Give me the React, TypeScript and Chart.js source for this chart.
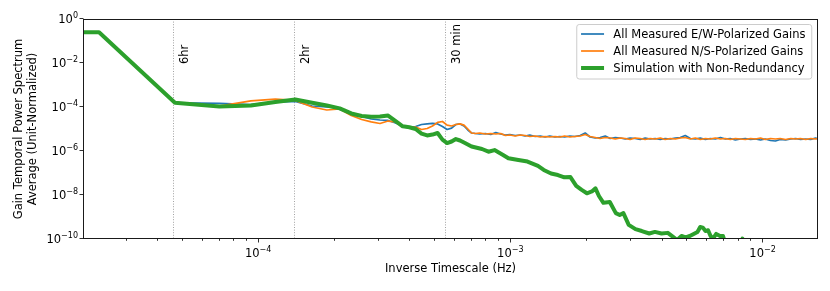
import React, { useEffect, useRef } from 'react';
import { Chart, registerables } from 'chart.js';

Chart.register(...registerables);

const FONT = '"DejaVu Sans", sans-serif';

// ---- Data (Hz, unit-normalized power) ----
const FREQ_LOW = [1e-5, 2.35e-5, 4.7e-5, 7.05e-5, 9.4e-5, 1.175e-4, 1.41e-4, 1.645e-4, 1.88e-4, 2.115e-4,
  2.35e-4, 2.585e-4, 2.82e-4, 3.055e-4, 3.29e-4, 3.525e-4, 3.76e-4, 3.995e-4, 4.23e-4, 4.465e-4,
  4.7e-4, 4.935e-4, 5.17e-4, 5.405e-4, 5.64e-4, 5.875e-4, 6.11e-4, 6.345e-4, 6.58e-4, 6.815e-4, 7.05e-4];

const FREQ_HIGH = [7.3e-4, 7.6e-4, 8.0e-4, 8.4e-4, 8.8e-4, 9.2e-4, 9.6e-4,
  1.0e-3, 1.05e-3, 1.1e-3, 1.15e-3, 1.2e-3, 1.26e-3, 1.32e-3, 1.38e-3, 1.44e-3, 1.51e-3, 1.58e-3, 1.65e-3, 1.73e-3, 1.81e-3, 1.9e-3, 1.99e-3,
  2.08e-3, 2.18e-3, 2.28e-3, 2.39e-3, 2.5e-3, 2.62e-3, 2.74e-3, 2.87e-3,
  3.0e-3, 3.14e-3, 3.29e-3, 3.44e-3, 3.6e-3, 3.77e-3, 3.95e-3,
  4.13e-3, 4.33e-3, 4.53e-3, 4.74e-3, 4.96e-3, 5.2e-3, 5.44e-3, 5.69e-3, 5.96e-3,
  6.24e-3, 6.53e-3, 6.84e-3, 7.16e-3, 7.49e-3, 7.84e-3, 8.21e-3, 8.59e-3, 9.0e-3, 9.42e-3, 9.86e-3,
  1.03e-2, 1.08e-2, 1.13e-2, 1.18e-2, 1.24e-2, 1.3e-2, 1.36e-2, 1.42e-2, 1.49e-2, 1.56e-2, 1.63e-2, 1.667e-2];

const EW_LOW = [0.25, 0.25, 1.55e-4, 1.45e-4, 1.3e-4, 1.65e-4, 1.78e-4, 1.11e-4, 1.0e-4, 9.0e-5,
  5.3e-5, 3.7e-5, 2.85e-5, 2.57e-5, 2.45e-5, 1.87e-5, 1.37e-5, 1.17e-5, 1.3e-5, 1.6e-5,
  1.7e-5, 1.8e-5, 1.7e-5, 1.3e-5, 9.5e-6, 1.1e-5, 1.6e-5, 1.7e-5, 1.37e-5, 9.0e-6, 6.6e-6];

const EW_HIGH = [6.24e-6, 5.93e-6, 6.24e-6, 5.62e-6, 6.93e-6, 5.93e-6, 5.33e-6,
  5.62e-6, 5.07e-6, 5.33e-6, 4.81e-6, 5.33e-6, 4.56e-6, 4.81e-6, 4.33e-6, 4.81e-6, 4.33e-6, 4.56e-6, 4.33e-6, 4.81e-6, 4.56e-6, 5.07e-6, 6.58e-6,
  4.33e-6, 3.9e-6, 4.11e-6, 4.81e-6, 3.7e-6, 4.11e-6, 3.9e-6, 3.51e-6,
  3.9e-6, 3.7e-6, 3.33e-6, 3.9e-6, 3.51e-6, 3.7e-6, 3.33e-6,
  3.7e-6, 3.51e-6, 3.9e-6, 4.11e-6, 5.07e-6, 3.7e-6, 3.51e-6, 3.9e-6, 3.33e-6,
  3.7e-6, 3.51e-6, 4.11e-6, 3.51e-6, 3.7e-6, 3.16e-6, 3.51e-6, 3.7e-6, 3.33e-6, 3.51e-6, 3.16e-6,
  3.51e-6, 3.0e-6, 2.85e-6, 3.33e-6, 3.16e-6, 3.51e-6, 3.7e-6, 3.33e-6, 3.51e-6, 3.33e-6, 3.9e-6, 3.51e-6];

const NS_LOW = [0.25, 0.25, 1.62e-4, 1.1e-4, 1.9e-4, 2.3e-4, 2.0e-4, 1.0e-4, 7.3e-5, 8.1e-5,
  4.1e-5, 2.7e-5, 2.1e-5, 1.78e-5, 2.3e-5, 2.1e-5, 1.37e-5, 1.1e-5, 1.23e-5, 9.5e-6,
  1.05e-5, 1.37e-5, 2.0e-5, 2.2e-5, 1.5e-5, 1.37e-5, 1.6e-5, 1.7e-5, 1.5e-5, 1.0e-5, 6.6e-6];

const NS_HIGH = [6.24e-6, 6.58e-6, 5.93e-6, 6.24e-6, 5.93e-6, 6.24e-6, 5.07e-6,
  5.33e-6, 4.81e-6, 5.33e-6, 5.07e-6, 4.56e-6, 4.81e-6, 4.33e-6, 4.56e-6, 4.33e-6, 4.56e-6, 4.33e-6, 4.81e-6, 4.33e-6, 4.56e-6, 4.81e-6, 5.62e-6,
  4.56e-6, 4.11e-6, 3.7e-6, 4.11e-6, 3.9e-6, 3.51e-6, 3.9e-6, 3.7e-6,
  3.33e-6, 3.9e-6, 3.7e-6, 3.33e-6, 3.7e-6, 3.51e-6, 3.9e-6,
  3.33e-6, 3.7e-6, 3.51e-6, 3.9e-6, 4.11e-6, 3.51e-6, 3.9e-6, 3.33e-6, 3.7e-6,
  3.51e-6, 3.9e-6, 3.51e-6, 3.7e-6, 3.33e-6, 3.7e-6, 3.51e-6, 3.33e-6, 3.7e-6, 3.51e-6, 3.9e-6,
  3.33e-6, 3.7e-6, 3.51e-6, 3.7e-6, 3.33e-6, 3.7e-6, 3.51e-6, 3.7e-6, 3.33e-6, 3.7e-6, 3.51e-6, 3.7e-6];

const SIM_FREQ = [1e-5, 2.35e-5, 4.7e-5, 7.05e-5, 9.4e-5, 1.175e-4, 1.41e-4, 1.645e-4, 1.88e-4, 2.115e-4,
  2.35e-4, 2.585e-4, 2.82e-4, 3.055e-4, 3.29e-4, 3.525e-4, 3.76e-4, 3.995e-4, 4.23e-4, 4.465e-4,
  4.7e-4, 4.935e-4, 5.17e-4, 5.405e-4, 5.64e-4, 5.875e-4, 6.11e-4, 6.345e-4, 6.58e-4, 7.05e-4,
  7.755e-4, 8.225e-4, 8.695e-4, 9.4e-4, 9.87e-4, 1.081e-3, 1.175e-3, 1.2925e-3, 1.363e-3, 1.457e-3,
  1.551e-3, 1.645e-3, 1.739e-3, 1.833e-3, 1.927e-3, 2.021e-3, 2.115e-3, 2.1855e-3, 2.256e-3, 2.35e-3,
  2.491e-3, 2.632e-3, 2.726e-3, 2.82e-3, 2.961e-3, 3.149e-3, 3.337e-3, 3.572e-3, 3.76e-3, 3.995e-3,
  4.23e-3, 4.465e-3, 4.606e-3, 4.794e-3, 4.982e-3, 5.17e-3, 5.358e-3, 5.546e-3, 5.687e-3, 5.828e-3,
  5.969e-3, 6.11e-3, 6.251e-3, 6.392e-3, 6.58e-3, 6.815e-3, 7.003e-3, 7.191e-3, 7.755e-3, 8.225e-3,
  8.366e-3, 8.507e-3, 9.4e-3, 1.175e-2, 1.666e-2];

const SIM_GAIN = [0.25, 0.25, 1.57e-4, 1.05e-4, 1.17e-4, 1.7e-4, 2.2e-4, 1.57e-4, 1.17e-4, 8.7e-5,
  5.1e-5, 3.9e-5, 3.6e-5, 3.7e-5, 4.1e-5, 2.3e-5, 1.33e-5, 1.2e-5, 1.0e-5, 6.2e-6,
  5.1e-6, 5.6e-6, 6.6e-6, 3.3e-6, 2.3e-6, 2.7e-6, 3.5e-6, 3.0e-6, 2.43e-6, 1.6e-6,
  1.23e-6, 9.3e-7, 1.1e-6, 6.6e-7, 4.7e-7, 3.9e-7, 3.3e-7, 2.1e-7, 1.38e-7, 9.5e-8,
  8.1e-8, 6.4e-8, 6.5e-8, 2.6e-8, 1.7e-8, 1.2e-8, 1.45e-8, 2.0e-8, 9.0e-9, 4.4e-9,
  4.8e-9, 1.5e-9, 1.23e-9, 1.5e-9, 4.4e-10, 2.8e-10, 2.3e-10, 1.78e-10, 2.1e-10, 1.78e-10,
  1.9e-10, 1.18e-10, 9e-11, 1.37e-10, 1.18e-10, 1.37e-10, 1.7e-10, 2.1e-10, 3.5e-10, 3.3e-10,
  2.3e-10, 2.5e-10, 1.37e-10, 1.05e-10, 1.7e-10, 1.37e-10, 1.37e-10, 5e-11, 3e-11, 6e-11,
  1.05e-10, 6e-11, 3e-11, 2e-11, 2e-11];

const MARKER_SECONDS = [21600, 7200, 1800];
const MARKER_LABELS = ['6hr', '2hr', '30 min'];

const X_MIN = 2.03e-5;
const X_MAX = 1.667e-2;
const Y_MIN = 1e-10;
const Y_MAX = 1;
const X_MAJOR_EXP = [-4, -3, -2];
const Y_MAJOR_EXP = [0, -2, -4, -6, -8, -10];

const SERIES_LABELS = [
  'All Measured E/W-Polarized Gains',
  'All Measured N/S-Polarized Gains',
  'Simulation with Non-Redundancy',
];
const COLORS = ['#1f77b4', '#ff7f0e', '#2ca02c'];
const WIDTHS = [1.7, 1.7, 4];

function pts(xs: number[], ys: number[]) {
  const n = Math.min(xs.length, ys.length);
  const out: { x: number; y: number }[] = [];
  for (let i = 0; i < n; i++) out.push({ x: xs[i], y: ys[i] });
  return out;
}

function drawPow(ctx: CanvasRenderingContext2D, exp: number, x: number, baseY: number, align: 'center' | 'right') {
  const base = '10';
  const sup = exp < 0 ? '\u2212' + String(-exp) : String(exp);
  ctx.font = `11.5px ${FONT}`;
  const wb = ctx.measureText(base).width;
  ctx.font = `8px ${FONT}`;
  const ws = ctx.measureText(sup).width;
  const total = wb + ws;
  const left = align === 'center' ? x - total / 2 : x - total;
  ctx.textAlign = 'left';
  ctx.textBaseline = 'alphabetic';
  ctx.font = `11.5px ${FONT}`;
  ctx.fillText(base, left, baseY);
  ctx.font = `8px ${FONT}`;
  ctx.fillText(sup, left + wb, baseY - 5);
}

const overlay = {
  id: 'overlay',
  beforeDatasetsDraw(chart: any) {
    const { ctx, chartArea: a, scales } = chart;
    const x = scales.x;
    ctx.save();
    ctx.strokeStyle = '#8a8a8a';
    ctx.lineWidth = 0.8;
    ctx.setLineDash([1, 1.6]);
    MARKER_SECONDS.forEach((s) => {
      const px = Math.round(x.getPixelForValue(1 / s)) + 0.5;
      ctx.beginPath();
      ctx.moveTo(px, a.top);
      ctx.lineTo(px, a.bottom);
      ctx.stroke();
    });
    ctx.restore();
  },
  afterDraw(chart: any) {
    const { ctx, chartArea: a, scales } = chart;
    const x = scales.x;
    const y = scales.y;
    ctx.save();
    ctx.fillStyle = '#000';

    // marker labels
    ctx.font = `11.5px ${FONT}`;
    MARKER_SECONDS.forEach((s, i) => {
      const px = Math.round(x.getPixelForValue(1 / s)) + 0.5;
      ctx.save();
      ctx.translate(px + 14.5, a.top + 45);
      ctx.rotate(-Math.PI / 2);
      ctx.textAlign = 'left';
      ctx.textBaseline = 'alphabetic';
      ctx.fillText(MARKER_LABELS[i], 0, 0);
      ctx.restore();
    });

    // frame
    const L = a.left + 0.5, R = a.right - 0.5, T = a.top + 0.5, B = a.bottom - 0.5;
    ctx.strokeStyle = '#1a1a1a';
    ctx.lineWidth = 1;
    ctx.strokeRect(L, T, R - L, B - T);

    // x ticks
    ctx.lineWidth = 0.9;
    for (let k = -5; k <= -2; k++) {
      for (let m = 1; m <= 9; m++) {
        const v = m * Math.pow(10, k);
        if (v < X_MIN || v > X_MAX) continue;
        const px = Math.round(x.getPixelForValue(v)) + 0.5;
        const len = m === 1 ? 4 : 2.3;
        ctx.beginPath();
        ctx.moveTo(px, B);
        ctx.lineTo(px, B + len);
        ctx.stroke();
      }
    }
    X_MAJOR_EXP.forEach((e) => {
      const px = x.getPixelForValue(Math.pow(10, e));
      drawPow(ctx, e, px + 0.5, a.bottom + 17.5, 'center');
    });

    // y ticks
    Y_MAJOR_EXP.forEach((e) => {
      const py = Math.round(y.getPixelForValue(Math.pow(10, e))) - 0.5;
      ctx.beginPath();
      ctx.moveTo(L, py);
      ctx.lineTo(L - 4, py);
      ctx.stroke();
      drawPow(ctx, e, a.left - 5, py + 4.5, 'right');
    });

    // axis titles
    ctx.font = `11.5px ${FONT}`;
    ctx.textAlign = 'center';
    ctx.textBaseline = 'alphabetic';
    ctx.fillText('Inverse Timescale (Hz)', (a.left + a.right) / 2, a.bottom + 32.5);
    const cy = (a.top + a.bottom) / 2;
    [['Gain Temporal Power Spectrum', 22.4], ['Average (Unit-Normalized)', 36.2]].forEach(([t, bx]) => {
      ctx.save();
      ctx.translate(bx as number, cy);
      ctx.rotate(-Math.PI / 2);
      ctx.fillText(t as string, 0, 0);
      ctx.restore();
    });

    // legend
    const boxR = a.right - 6.25;
    const boxL = boxR - 235;
    const boxT = a.top + 5.5;
    const boxH = 54.5;
    ctx.beginPath();
    (ctx as any).roundRect(boxL, boxT, boxR - boxL, boxH, 2.5);
    ctx.fillStyle = 'rgba(255,255,255,0.8)';
    ctx.fill();
    ctx.strokeStyle = '#cccccc';
    ctx.lineWidth = 1;
    ctx.stroke();
    SERIES_LABELS.forEach((lab, i) => {
      const ry = boxT + 9.5 + i * 17;
      ctx.strokeStyle = COLORS[i];
      ctx.lineWidth = WIDTHS[i];
      ctx.beginPath();
      ctx.moveTo(boxL + 4.3, ry);
      ctx.lineTo(boxL + 27.3, ry);
      ctx.stroke();
      ctx.fillStyle = '#000';
      ctx.font = `11.5px ${FONT}`;
      ctx.textAlign = 'left';
      ctx.textBaseline = 'alphabetic';
      ctx.fillText(lab, boxL + 36.6, ry + 4);
    });
    ctx.restore();
  },
};

export default function App() {
  const ref = useRef<HTMLCanvasElement>(null);
  useEffect(() => {
    const canvas = ref.current;
    if (!canvas) return;
    const ds = [
      pts(FREQ_LOW.concat(FREQ_HIGH), EW_LOW.concat(EW_HIGH)),
      pts(FREQ_LOW.concat(FREQ_HIGH), NS_LOW.concat(NS_HIGH)),
      pts(SIM_FREQ, SIM_GAIN),
    ];
    const chart = new Chart(canvas, {
      type: 'line',
      data: {
        datasets: ds.map((d, i) => ({
          label: SERIES_LABELS[i],
          data: d,
          borderColor: COLORS[i],
          backgroundColor: COLORS[i],
          borderWidth: WIDTHS[i],
          pointRadius: 0,
          pointHoverRadius: 0,
          fill: false,
          tension: 0,
          clip: 0,
          order: 3 - i,
          borderJoinStyle: 'round',
          borderCapStyle: 'butt',
        })),
      },
      options: {
        responsive: false,
        animation: false,
        devicePixelRatio: 1,
        events: [],
        layout: { padding: { left: 0, top: 19, right: 12, bottom: 0 } },
        plugins: { legend: { display: false }, tooltip: { enabled: false }, title: { display: false } },
        scales: {
          x: {
            type: 'logarithmic',
            min: X_MIN,
            max: X_MAX,
            bounds: 'data',
            ticks: { display: false },
            grid: { display: false },
            border: { display: false },
            afterFit: (s: any) => { s.height = 52; },
          },
          y: {
            type: 'logarithmic',
            min: Y_MIN,
            max: Y_MAX,
            bounds: 'data',
            ticks: { display: false },
            grid: { display: false },
            border: { display: false },
            afterFit: (s: any) => { s.width = 83; },
          },
        },
      } as any,
      plugins: [overlay],
    } as any);
    return () => chart.destroy();
  }, []);
  return (
    <div style={{ position: 'fixed', left: 0, top: 0, width: 830, height: 291, background: '#fff' }}>
      <canvas ref={ref} width={830} height={291} style={{ width: 830, height: 291, display: 'block' }} />
    </div>
  );
}
